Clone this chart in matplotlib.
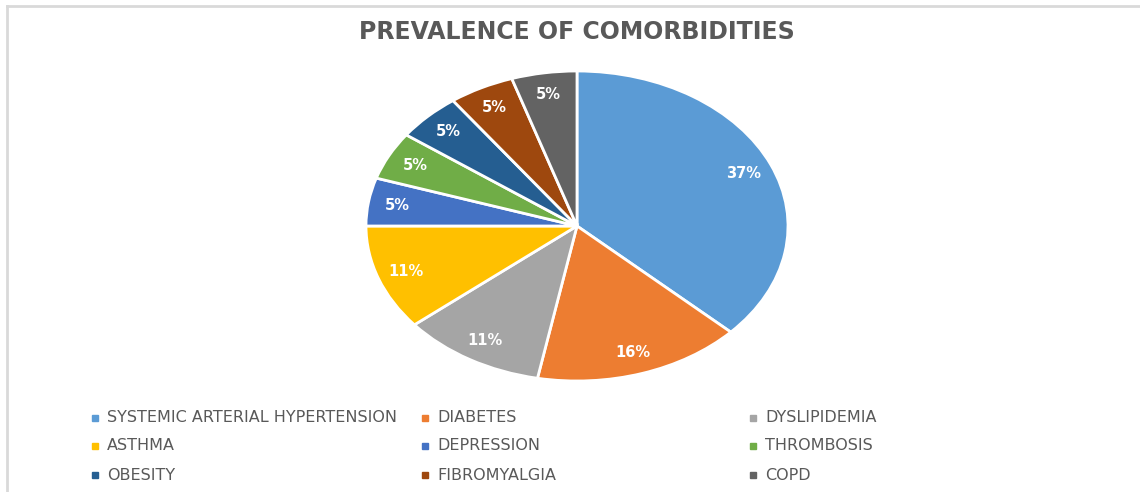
import matplotlib.pyplot as plt
from matplotlib.lines import Line2D

categories = ['SYSTEMIC ARTERIAL HYPERTENSION', 'DIABETES', 'DYSLIPIDEMIA',
              'ASTHMA', 'DEPRESSION', 'THROMBOSIS',
              'OBESITY', 'FIBROMYALGIA', 'COPD']
shares = [37, 16, 11, 11, 5, 5, 5, 5, 5]
colors = ['#5B9BD5', '#ED7D31', '#A5A5A5', '#FFC000', '#4472C4',
          '#70AD47', '#255E91', '#9E480E', '#636363']

W, H = 1140, 492
fig = plt.figure(figsize=(W / 100, H / 100), dpi=100)
plt.rcParams['font.family'] = ['DejaVu Sans']

# elliptical pie: axes box sized to the ellipse, aspect left free
cx, cy, rx, ry = 577, 226, 211, 155
ax = fig.add_axes([(cx - rx) / W, (H - cy - ry) / H, 2 * rx / W, 2 * ry / H])
wedges, _, autotexts = ax.pie(shares, colors=colors, startangle=90, counterclock=False,
                              autopct='%1.0f%%', pctdistance=0.86,
                              wedgeprops=dict(edgecolor='white', linewidth=2),
                              textprops=dict(color='white', fontsize=10.5, fontweight='bold'))
ax.set_aspect('auto')
ax.set_xlim(-1, 1)
ax.set_ylim(-1, 1)
ax.axis('off')

fig.text(cx / W, 1 - 32 / H, 'PREVALENCE OF COMORBIDITIES', ha='center', va='center',
         fontsize=17, fontweight='bold', color='#595959')

# legend laid out row by row, like the original
col_x = [95, 425, 753]
row_y = [418, 446, 475]
for i, (name, c) in enumerate(zip(categories, colors)):
    x = col_x[i % 3]
    y = row_y[i // 3]
    fig.add_artist(Line2D([x / W], [1 - y / H], marker='s', markersize=5,
                          color=c, linestyle='none'))
    fig.text((x + 12) / W, 1 - y / H, name, ha='left', va='center',
             fontsize=11.5, color='#595959')

# thin frame on top and left edges
fig.add_artist(Line2D([7 / W, 1], [1 - 6 / H, 1 - 6 / H], color='#D9D9D9', linewidth=2))
fig.add_artist(Line2D([7 / W, 7 / W], [0, 1 - 6 / H], color='#D9D9D9', linewidth=2))

fig.savefig('out.png', dpi=100)
